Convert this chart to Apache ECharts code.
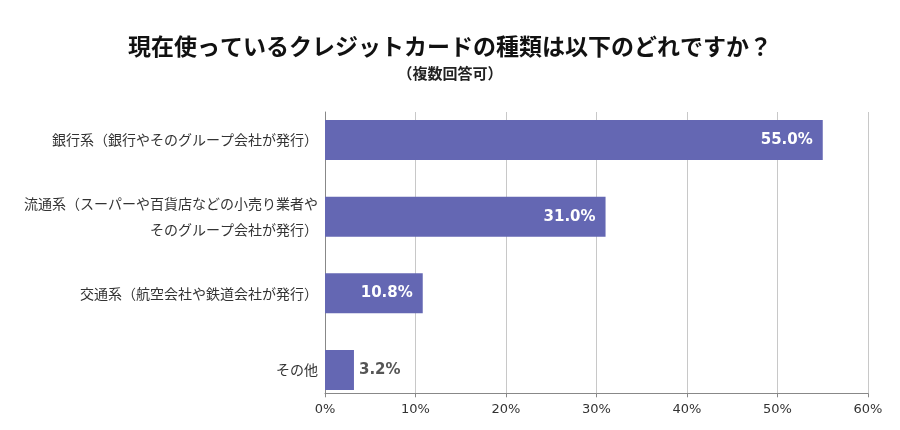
<!DOCTYPE html>
<html>
<head>
<meta charset="utf-8">
<script src="https://cdn.jsdelivr.net/npm/echarts@6/dist/echarts.min.js"></script>
<style>html,body{margin:0;padding:0;background:#fff;}#c{width:900px;height:430px;}</style>
</head>
<body>
<div id="c"></div>
<script>
const titleText = '現在使っているクレジットカードの種類は以下のどれですか？';
const subtitleText = '（複数回答可）';
const categories = [
  '銀行系（銀行やそのグループ会社が発行）',
  '流通系（スーパーや百貨店などの小売り業者や\nそのグループ会社が発行）',
  '交通系（航空会社や鉄道会社が発行）',
  'その他'
];
const values = [55.0, 31.0, 10.8, 3.2];
const xTicks = [0, 10, 20, 30, 40, 50, 60];

const chart = echarts.init(document.getElementById('c'));
const jp = '"Noto Sans CJK JP", "Noto Sans", sans-serif';
chart.setOption({
  backgroundColor: '#fff',
  animation: false,
  title: [
    { text: titleText, left: 'center', top: 30, textStyle: { fontFamily: jp, fontSize: 23, fontWeight: 'bold', color: '#111' } },
    { text: subtitleText, left: 'center', top: 61, textStyle: { fontFamily: jp, fontSize: 15, fontWeight: 'bold', color: '#222' } }
  ],
  grid: [
    { left: 325, right: 32, top: 101.65, bottom: 21.65 },
    { left: 325, right: 32, top: 112, bottom: 36.7 }
  ],
  xAxis: [
    { gridIndex: 0, type: 'value', min: xTicks[0], max: xTicks[xTicks.length - 1], show: false },
    {
      gridIndex: 1, type: 'value', min: xTicks[0], max: xTicks[xTicks.length - 1], interval: xTicks[1] - xTicks[0],
      axisLine: { show: true, onZero: false, lineStyle: { color: '#888', width: 1 } },
      axisTick: { show: true, length: 4, lineStyle: { color: '#888' } },
      splitLine: { show: true, lineStyle: { color: '#c8c8c8', width: 1 } },
      axisLabel: { formatter: '{value}%', margin: 10, fontSize: 13, color: '#333', fontFamily: '"DejaVu Sans", sans-serif' }
    }
  ],
  yAxis: [
    {
      gridIndex: 0, type: 'category', data: categories, inverse: true,
      axisLine: { show: false }, axisTick: { show: false }, splitLine: { show: false },
      axisLabel: { margin: 7, fontSize: 14, lineHeight: 26, color: '#333', fontFamily: jp }
    },
    {
      gridIndex: 1, type: 'value', min: 0, max: 1,
      axisLine: { show: true, onZero: false, lineStyle: { color: '#888', width: 1 } },
      axisTick: { show: false }, axisLabel: { show: false }, splitLine: { show: false }
    }
  ],
  series: [{
    type: 'bar', xAxisIndex: 0, yAxisIndex: 0, barWidth: 40,
    itemStyle: { color: '#6467b3' },
    label: {
      show: true, position: 'insideRight', distance: 10,
      formatter: p => p.value.toFixed(1) + '%',
      color: '#fff', fontSize: 15, fontWeight: 'bold', fontFamily: '"DejaVu Sans", sans-serif'
    },
    data: values.map(v => v < 5 ? { value: v, label: { position: 'right', distance: 5, color: '#555' } } : v)
  }]
});
</script>
</body>
</html>
